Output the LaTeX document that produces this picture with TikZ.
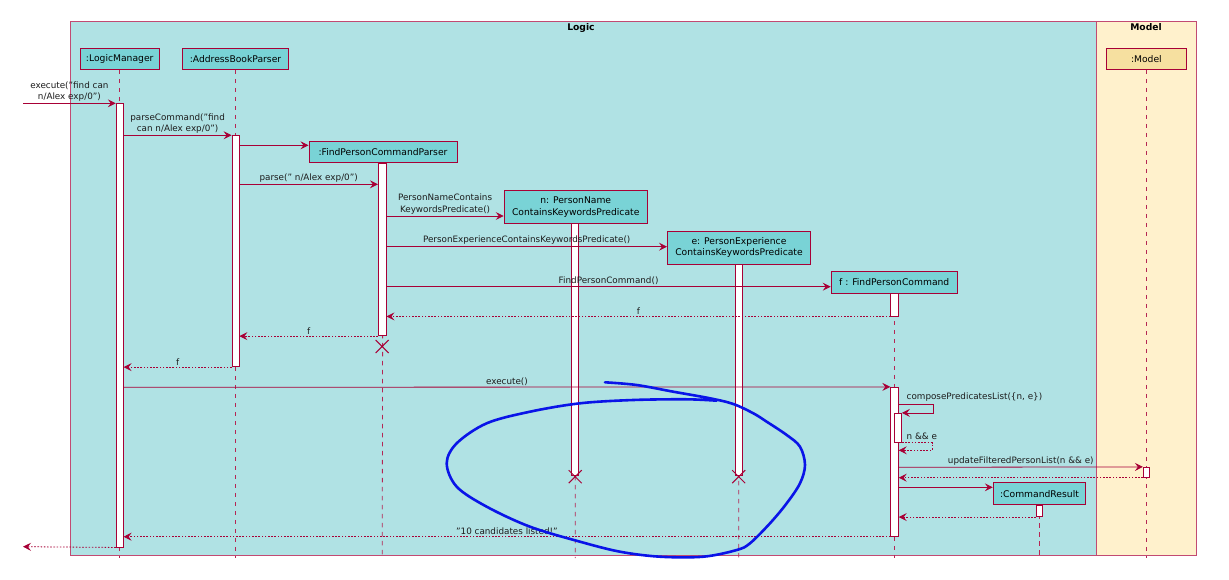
\documentclass[tikz,border=0pt]{standalone}
\usepackage{fontspec}
\setmainfont{DejaVu Sans}
\usetikzlibrary{arrows.meta,shapes.misc}
\definecolor{crim}{HTML}{A80036}
\definecolor{framecol}{HTML}{C24A72}
\definecolor{logicbg}{HTML}{B0E2E4}
\definecolor{partfill}{HTML}{79D3D6}
\definecolor{modelbg}{HTML}{FFF1CC}
\definecolor{modelpart}{HTML}{F6E0A0}
\definecolor{ink}{HTML}{1C1C1C}
\definecolor{pen}{HTML}{0A14E8}
\newcommand{\fsz}{\fontsize{9.2pt}{11.3pt}\selectfont}
\newcommand{\msz}{\fontsize{8.8pt}{11.3pt}\selectfont}
\begin{document}
\begin{tikzpicture}[x=1pt,y=-1pt,
  frame/.style={draw=framecol, line width=0.8pt, inner sep=0pt},
  title/.style={font=\fsz\bfseries, text=black, inner sep=0pt},
  part/.style={draw=crim, line width=1pt, fill=partfill, font=\fsz, text=black, inner sep=0pt, align=center},
  mpart/.style={part, fill=modelpart},
  lifeline/.style={draw=crim!85, line width=0.8pt, dash pattern=on 4.5pt off 4.5pt},
  act/.style={draw=crim, line width=0.8pt, fill=white, inner sep=0pt, minimum width=7pt},
  destroy/.style={cross out, draw=crim, line width=1pt, minimum size=12pt, inner sep=0pt},
  msg/.style={draw=crim, line width=0.8pt, -{Stealth[length=8pt,width=8pt,inset=3pt]}},
  ret/.style={msg, dash pattern=on 1.6pt off 1.6pt},
  lbl/.style={font=\msz, text=ink, inner sep=1.5pt, align=center},
  scribble/.style={draw=pen, line width=2.6pt, line cap=round, line join=round}
]
\useasboundingbox (0,0) rectangle (1229,580);
\fill[white] (0,0) rectangle (1229,580);

% frames
\node[frame, fill=logicbg, minimum width=1026pt, minimum height=534pt] (logic) at (583,288) {};
\node[frame, fill=modelbg, minimum width=100pt, minimum height=534pt] (model) at (1146.5,288) {};
\node[title] (logicT) at (581,28) {Logic};
\node[title] (modelT) at (1146,27.5) {Model};

% participants
\node[part, minimum width=79pt, minimum height=21pt] (lm) at (119.7,58.8) {:LogicManager};
\node[part, minimum width=106pt, minimum height=21pt] (abp) at (235.5,58.8) {:AddressBookParser};
\node[part, minimum width=148pt, minimum height=21pt] (fpcp) at (383,151.8) {:FindPersonCommandParser};
\node[part, minimum width=143pt, minimum height=32.6pt] (nP) at (575.7,207) {n: PersonName\\ContainsKeywordsPredicate};
\node[part, minimum width=143pt, minimum height=33.3pt] (eP) at (739,247.7) {e: PersonExperience\\ContainsKeywordsPredicate};
\node[part, minimum width=126pt, minimum height=21.6pt] (fP) at (894.2,282.5) {f : FindPersonCommand};
\node[part, minimum width=92.4pt, minimum height=22.3pt] (crP) at (1039.5,493.8) {:CommandResult};
\node[mpart, minimum width=80.7pt, minimum height=21pt] (mP) at (1146.4,58.8) {:Model};

% lifeline ends
\coordinate (lmE) at (119.7,558);
\coordinate (abpE) at (235.5,558);
\coordinate (fpcpE) at (382.2,558);
\coordinate (nE) at (575.2,558);
\coordinate (eE) at (738.7,558);
\coordinate (fE) at (894.2,558);
\coordinate (crE) at (1039.5,558);
\coordinate (mE) at (1146.4,558);
\draw[lifeline] (lm) -- (lmE);
\draw[lifeline] (abp) -- (abpE);
\draw[lifeline] (fpcp) -- (fpcpE);
\draw[lifeline] (nP) -- (nE);
\draw[lifeline] (eP) -- (eE);
\draw[lifeline] (fP) -- (fE);
\draw[lifeline] (crP) -- (crE);
\draw[lifeline] (mP) -- (mE);

% activation bars
\node[act, minimum height=443.7pt] (lmA) at (119.7,325.2) {};
\node[act, minimum height=231.4pt] (abpA) at (235.5,251) {};
\node[act, minimum width=7.7pt, minimum height=172.7pt] (fpcpA) at (382.2,249.4) {};
\node[act, minimum height=252pt] (nA) at (575.2,349.3) {};
\node[act, minimum height=211pt] (eA) at (738.7,369.8) {};
\node[act, minimum width=7.6pt, minimum height=22.7pt] (fA1) at (894.5,304.7) {};
\node[act, minimum width=7.6pt, minimum height=149pt] (fA2) at (894.5,461.8) {};
\node[act, minimum height=29pt] (fA3) at (898,427.8) {};
\node[act, minimum width=6.4pt, minimum height=11.7pt] (crA) at (1039.5,510.8) {};
\node[act, minimum width=6pt, minimum height=10pt] (mA) at (1146.3,472.3) {};

% destructions
\node[destroy] (fpcpX) at (382.2,346.5) {};
\node[destroy] (nX) at (575.2,476.7) {};
\node[destroy] (eX) at (738.7,476.7) {};

% messages
\coordinate (inStart) at (23,103.3);
\coordinate (outEnd) at (23,546.7);
\draw[msg] (inStart) -- (lmA.west |- 0,103.3)
  node[lbl, midway, above] {execute("find can\\n/Alex exp/0")};
\draw[msg] (lmA.east |- 0,135.3) -- (abpA.west |- 0,135.3)
  node[lbl, midway, above] {parseCommand("find\\can n/Alex exp/0")};
\draw[msg] (abpA.east |- 0,145.3) -- (fpcp.west |- 0,145.3);
\draw[msg] (abpA.east |- 0,184.3) -- (fpcpA.west |- 0,184.3)
  node[lbl, midway, above] {parse(" n/Alex exp/0")};
\draw[msg] (fpcpA.east |- 0,216) -- (nP.west |- 0,216)
  node[lbl, midway, above] {PersonNameContains\\KeywordsPredicate()};
\draw[msg] (fpcpA.east |- 0,246.7) -- (eP.west |- 0,246.7)
  node[lbl, midway, above] {PersonExperienceContainsKeywordsPredicate()};
\draw[msg] (fpcpA.east |- 0,286.7) -- (fP.west |- 0,286.7)
  node[lbl, midway, above] {FindPersonCommand()};
\draw[ret] (fA1.south west) -- (fpcpA.east |- fA1.south west)
  node[lbl, midway, above] {f};
\draw[ret] (fpcpA.south west) -- (abpA.east |- fpcpA.south west)
  node[lbl, midway, above] {f};
\draw[ret] (abpA.south west) -- (lmA.east |- abpA.south west)
  node[lbl, midway, above] {f};
\draw[msg] (lmA.east |- 0,387.3) -- (fA2.north west)
  node[lbl, midway, above] {execute()};
\draw[msg] (fA2.east |- 0,404) -- ++(35,0) |- (fA3.north east);
\node[lbl, anchor=south west] (compLbl) at (905,403) {composePredicatesList(\{n, e\})};
\draw[ret] (fA3.south east) -- ++(30,0) |- (fA2.east |- 0,450.3);
\node[lbl, anchor=south west] (andLbl) at (905,441) {n \&\& e};
\draw[msg] (fA2.east |- 0,467.3) -- (mA.north west)
  node[lbl, midway, above] {updateFilteredPersonList(n \&\& e)};
\draw[ret] (mA.south west) -- (fA2.east |- mA.south west);
\draw[msg] (fA2.east |- 0,487.3) -- (crP.west |- 0,487.3);
\draw[ret] (crA.south west) -- (fA2.east |- crA.south west);
\draw[ret] (fA2.south west) -- (lmA.east |- fA2.south west)
  node[lbl, midway, above] {"10 candidates listed!"};
\draw[ret] (lmA.south west) -- (outEnd);

% hand-drawn loop
\draw[scribble] plot[smooth, tension=0.55] coordinates {
  (605,382.3) (636.7,385) (673.3,391.7) (710,398.3) (733.3,404)
  (753.3,413.3) (766.7,421.7) (786.7,435) (800,446.7) (805,465)
  (800,483.3) (786.7,503.3) (770,523.3) (750,543.3) (736.7,550)
  (703.3,556.7) (660,556.7) (620,551.7) (580,541.7) (530,526.7)
  (486.7,506.7) (456.7,486.7) (446.7,463.3) (456.7,443.3) (486.7,423.3)
  (530,411.7) (580,403.3) (633.3,400) (686.7,399.3) (716.7,400.7)};
\end{tikzpicture}
\end{document}
